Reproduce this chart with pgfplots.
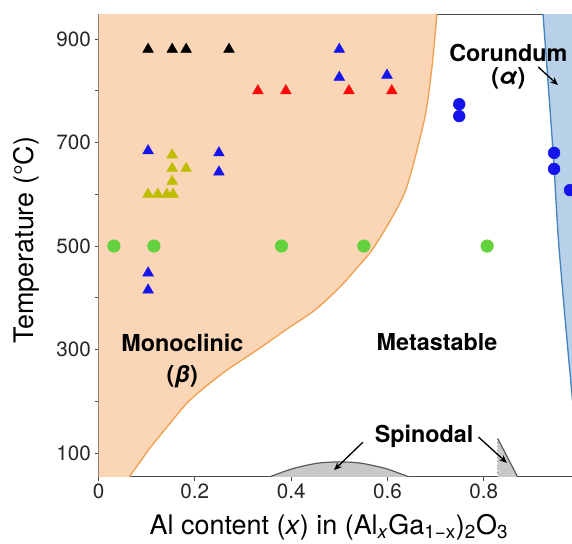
\documentclass[border=0pt]{standalone}
\usepackage{fontspec}
\setmainfont{TeX Gyre Heros}
\usepackage{pgfplots}
\pgfplotsset{compat=1.18}
\usetikzlibrary{arrows.meta}
\definecolor{peach}{RGB}{251,214,182}
\definecolor{peachline}{RGB}{240,160,80}
\definecolor{corfill}{RGB}{184,209,232}
\definecolor{corline}{RGB}{70,130,190}
\definecolor{mgreen}{RGB}{100,210,60}
\definecolor{mblue}{RGB}{20,20,235}
\definecolor{myellow}{RGB}{190,190,0}
\definecolor{mred}{RGB}{250,10,10}
\definecolor{spin}{RGB}{200,200,200}
\definecolor{spinline}{RGB}{90,90,90}
\begin{document}
\begin{tikzpicture}
\begin{axis}[name=ax, scale only axis, width=356.3pt, height=346.9pt,
 xmin=0, xmax=0.9865, ymin=54.6, ymax=948.3,
 axis line style={draw=black!70, line width=0.7pt},
 tick align=outside, xtick pos=bottom, ytick pos=left,
 major tick length=3pt, tick style={black!70, line width=0.6pt},
 xtick={0,0.2,0.4,0.6,0.8}, xticklabels={0,0.2,0.4,0.6,0.8},
 ytick={100,200,...,900}, yticklabels={100,,300,,500,,700,,900},
 tick label style={font=\fontsize{15.5}{18}\selectfont, text=black!85, inner sep=2.5pt},
 /pgf/number format/assume math mode=true,
 xlabel={Al content (\textit{x}) in (Al\textsubscript{\textit{x}}Ga\textsubscript{1−x})\textsubscript{2}O\textsubscript{3}},
 ylabel={Temperature (°C)},
 label style={font=\fontsize{20.2}{23}\selectfont},
 xlabel style={at={(rel axis cs:0.485,-0.1243)}, anchor=base},
 ylabel style={at={(rel axis cs:-0.1526,0.511)}, anchor=center},
]
% monoclinic region
\addplot[fill=peach, draw=none] coordinates {
 (0,40) (0.058,40) (0.0654,55.6) (0.0862,82.6) (0.1069,109.7) (0.1422,150.2) (0.1900,202.4)
 (0.2585,254.6) (0.3291,299.0) (0.3976,343.5) (0.4495,376.3) (0.5014,420.8) (0.5347,455.6)
 (0.5679,492.3) (0.6053,548.3) (0.6364,604.3) (0.6600,680.0) (0.6800,760.0) (0.6924,845.9) (0.7028,948.3)
 (0.706,990) (0,990)} -- cycle;
\addplot[color=peachline, line width=1pt, smooth, tension=0.5] coordinates {
 (0.058,40) (0.0654,55.6) (0.0862,82.6) (0.1069,109.7) (0.1422,150.2) (0.1900,202.4)
 (0.2585,254.6) (0.3291,299.0) (0.3976,343.5) (0.4495,376.3) (0.5014,420.8) (0.5347,455.6)
 (0.5679,492.3) (0.6053,548.3) (0.6364,604.3) (0.6600,680.0) (0.6800,760.0) (0.6924,845.9) (0.7028,948.3)
 (0.706,990)};
% corundum region
\addplot[fill=corfill, draw=none] coordinates {
 (0.920,990) (0.923,948) (0.944,680) (0.956,500) (0.981,235) (1.002,40) (1.1,40) (1.1,990)} -- cycle;
\addplot[color=corline, line width=1pt, smooth] coordinates {
 (0.920,990) (0.923,948) (0.944,680) (0.956,500) (0.981,235) (1.002,40)};
% spinodal dome
\addplot[fill=spin, draw=spinline, line width=0.9pt, smooth] coordinates {
 (0.350,40) (0.355,53) (0.370,59) (0.400,69) (0.430,76) (0.460,81) (0.500,83)
 (0.540,81) (0.570,76) (0.600,69) (0.630,59) (0.645,53) (0.650,40)};
% right spinodal
\addplot[fill=spin, draw=none] coordinates {(0.829,128) (0.829,40) (0.878,40)} -- cycle;
\addplot[color=spinline, line width=0.9pt] coordinates {(0.829,128) (0.878,40)};
\addplot[color=gray, dotted, line width=0.8pt] coordinates {(0.829,128) (0.829,54)};
% markers
\addplot[only marks, mark=triangle*, mark size=4.6pt, mark options={draw=black, fill=black}] coordinates {
 (0.103,880) (0.153,880) (0.182,880) (0.271,880)};
\addplot[only marks, mark=triangle*, mark size=4.6pt, mark options={draw=mred, fill=mred}] coordinates {
 (0.331,800) (0.389,800) (0.520,800) (0.609,800)};
\addplot[only marks, mark=triangle*, mark size=4.6pt, mark options={draw=mblue, fill=mblue}] coordinates {
 (0.500,880) (0.500,826) (0.599,830) (0.103,684) (0.250,680) (0.250,643) (0.103,448) (0.103,415)};
\addplot[only marks, mark=triangle*, mark size=4.6pt, mark options={draw=myellow, fill=myellow}] coordinates {
 (0.103,600) (0.123,600) (0.142,600) (0.155,600) (0.153,625) (0.153,650) (0.182,650) (0.153,676)};
\addplot[only marks, mark=*, mark size=4.7pt, mark options={draw=mgreen, fill=mgreen}] coordinates {
 (0.032,500) (0.115,500) (0.380,500) (0.551,500) (0.807,500)};
\addplot[only marks, mark=*, mark size=4.4pt, mark options={draw=mblue, fill=mblue}] coordinates {
 (0.749,774) (0.749,751) (0.946,680) (0.946,649) (0.979,608)};
% labels
\node[font=\fontsize{17.5}{20}\selectfont\bfseries, anchor=base, inner sep=0pt] at (axis cs:0.174,297) {Monoclinic};
\node[font=\fontsize{17.5}{20}\selectfont\bfseries, anchor=base, inner sep=0pt] at (axis cs:0.174,237) {(\textit{β})};
\node[font=\fontsize{17.5}{20}\selectfont\bfseries, anchor=base, inner sep=0pt] at (axis cs:0.703,299) {Metastable};
\node[font=\fontsize{17.5}{20}\selectfont\bfseries, anchor=base, inner sep=0pt] at (axis cs:0.676,121) {Spinodal};
\node[font=\fontsize{17.5}{17}\selectfont\bfseries, align=center, anchor=center, inner sep=0pt] at (axis cs:0.851,846) {Corundum\\(\textit{α})};
\draw[-{Stealth[length=6pt,width=5pt]}, line width=1pt] (axis cs:0.549,121) -- (axis cs:0.489,67);
\draw[-{Stealth[length=6pt,width=5pt]}, line width=1pt] (axis cs:0.789,131) -- (axis cs:0.848,81);
\draw[-{Stealth[length=6pt,width=5pt]}, line width=1pt] (axis cs:0.913,846) -- (axis cs:0.954,811);
\end{axis}
\pgfresetboundingbox
\path ([shift={(-73.875pt,-49.875pt)}]ax.south west) rectangle ([shift={(-1.2pt,10.5pt)}]ax.north east);
\end{tikzpicture}
\end{document}
